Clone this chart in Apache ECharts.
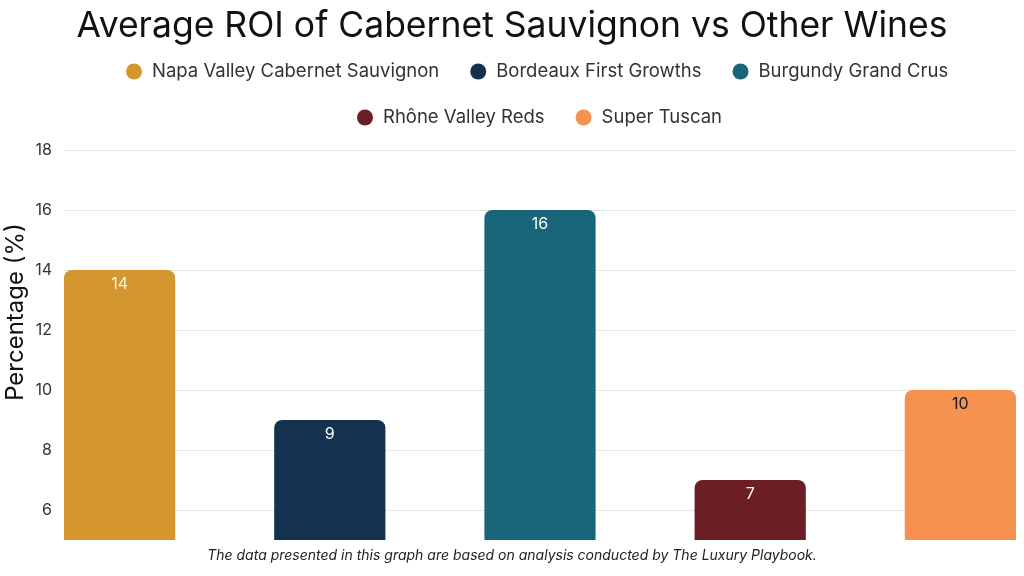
<!DOCTYPE html>
<html>
<head>
<meta charset="utf-8">
<script src="https://cdn.jsdelivr.net/npm/echarts@6/dist/echarts.min.js"></script>
<style>html,body{margin:0;padding:0;background:#fff;}#c{width:1024px;height:576px;}</style>
</head>
<body>
<div id="c"></div>
<script>
const seriesNames = ['Napa Valley Cabernet Sauvignon', 'Bordeaux First Growths', 'Burgundy Grand Crus', 'Rhône Valley Reds', 'Super Tuscan'];
const seriesValues = [14, 9, 16, 7, 10];
const seriesColors = ['#D4962F', '#12324F', '#186478', '#6B1F24', '#F69250'];
const labelColors = ['#FFF4E0', '#FFFFFF', '#FFFFFF', '#FFFFFF', '#1A1A1A'];
const yTicks = [6, 8, 10, 12, 14, 16, 18];
const FONT = 'Inter, "Noto Sans", sans-serif';

const legendBase = {
  itemGap: 31, itemWidth: 16, itemHeight: 16,
  icon: 'circle',
  textStyle: {fontFamily: FONT, fontSize: 18.5, color: '#333', padding: [0, 0, 0, 5]}
};

const chart = echarts.init(document.getElementById('c'), null, {renderer: 'canvas'});
chart.setOption({
  animation: false,
  backgroundColor: '#ffffff',
  title: {
    text: 'Average ROI of Cabernet Sauvignon vs Other Wines',
    left: 'center', top: 3,
    textStyle: {fontFamily: FONT, fontSize: 35.5, fontWeight: 'normal', color: '#111'}
  },
  legend: [
    Object.assign({data: seriesNames.slice(0, 3), top: 57, left: 121}, legendBase),
    Object.assign({data: seriesNames.slice(3), top: 103, left: 352}, legendBase)
  ],
  graphic: [
    {type: 'text', left: 'center', top: 549,
     style: {text: 'The data presented in this graph are based on analysis conducted by The Luxury Playbook.',
             font: 'italic 14px ' + FONT, fill: '#222'}},
    {type: 'text', x: 4, y: 312, rotation: Math.PI / 2,
     style: {text: 'Percentage (%)', font: '24px ' + FONT, fill: '#111', align: 'center', verticalAlign: 'top'}}
  ],
  grid: {left: 64, right: 8, top: 150, bottom: 36},
  xAxis: {
    type: 'category', data: [''],
    axisLine: {show: false}, axisTick: {show: false}, axisLabel: {show: false}
  },
  yAxis: {
    type: 'value', min: 5, max: 18,
    axisLine: {show: false},
    axisTick: {show: false, customValues: yTicks},
    axisLabel: {customValues: yTicks, fontFamily: FONT, fontSize: 16, color: '#333', margin: 12},
    splitLine: {show: true, lineStyle: {color: '#e6e6e6'}}
  },
  series: seriesNames.map((n, i) => ({
    name: n, type: 'bar',
    data: [seriesValues[i]],
    barGap: '89%', barCategoryGap: '0%',
    itemStyle: {color: seriesColors[i], borderRadius: [8, 8, 0, 0]},
    label: {show: true, position: 'insideTop', distance: 6, color: labelColors[i],
            fontFamily: FONT, fontSize: 16}
  }))
});
</script>
</body>
</html>
